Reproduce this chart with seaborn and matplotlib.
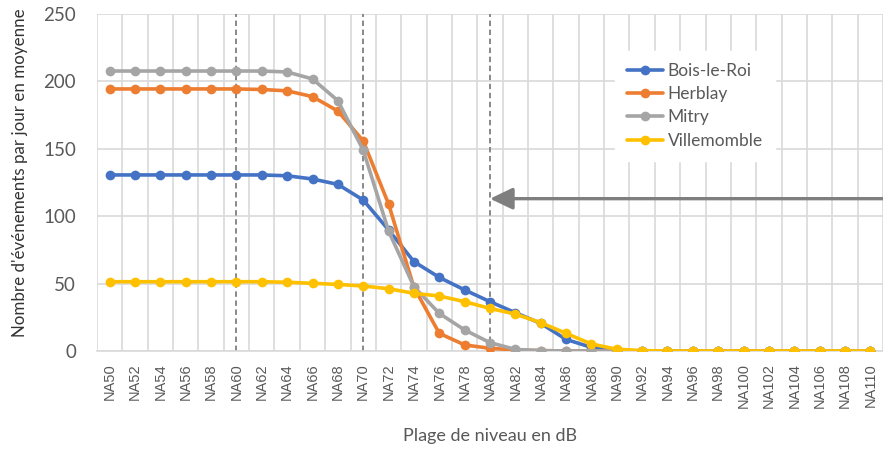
import matplotlib
matplotlib.use("Agg")
import matplotlib.pyplot as plt
import seaborn as sns
import pandas as pd
import numpy as np

# Level ranges (dB), NA50 .. NA110 in steps of 2
levels = [f"NA{v}" for v in range(50, 112, 2)]

bois_le_roi = [130.6, 130.6, 130.6, 130.6, 130.6, 130.6, 130.6, 130.0, 127.6, 123.6,
               112.0, 89.8, 66.3, 54.6, 45.3, 36.6, 28.4, 20.5, 8.6, 2.7,
               0.5, 0, 0, 0, 0, 0, 0, 0, 0, 0, 0]
herblay = [194.4, 194.4, 194.4, 194.4, 194.4, 194.4, 194.0, 193.0, 188.7, 178.0,
           155.8, 109.0, 47.2, 13.1, 4.5, 2.0, 0.8, 0.3, 0, 0,
           0, 0, 0, 0, 0, 0, 0, 0, 0, 0, 0]
mitry = [207.7, 207.7, 207.7, 207.7, 207.7, 207.7, 207.7, 207.0, 201.8, 185.7,
         149.0, 89.0, 47.7, 27.9, 15.6, 6.2, 1.2, 0.3, 0, 0,
         0, 0, 0, 0, 0, 0, 0, 0, 0, 0, 0]
villemomble = [51.4, 51.4, 51.4, 51.4, 51.4, 51.4, 51.4, 51.0, 50.2, 49.4,
               48.2, 46.2, 42.8, 40.8, 36.6, 31.6, 27.4, 21.0, 13.1, 5.2,
               1.3, 0.3, 0, 0, 0, 0, 0, 0, 0, 0, 0]

series_names = ["Bois-le-Roi", "Herblay", "Mitry", "Villemomble"]
series_values = [bois_le_roi, herblay, mitry, villemomble]
colors = ["#4472C4", "#ED7D31", "#A5A5A5", "#FFC000"]

marked_levels = ["NA60", "NA70", "NA80"]
arrow_level = "NA80"
arrow_value = 113

pos = np.arange(len(levels))
df = pd.concat(
    [pd.DataFrame({"pos": pos, "Plage": levels, "valeur": vals, "site": name})
     for name, vals in zip(series_names, series_values)],
    ignore_index=True,
)

sns.set_theme(style="white")
plt.rcParams["font.family"] = ["Lato", "DejaVu Sans"]

fig = plt.figure(figsize=(8.83, 4.5), dpi=100)
ax = fig.add_axes([97 / 883, 1 - 351 / 450, (883 - 97) / 883, (351 - 14) / 450])

grid_c = "#D9D9D9"
text_c = "#595959"

sns.lineplot(data=df, x="pos", y="valeur", hue="site", hue_order=series_names,
             palette=colors, marker="o", markersize=7, markeredgewidth=0,
             linewidth=2.6, ax=ax, zorder=3, sort=False)

ax.set_xlim(-0.5, len(levels) - 0.5)
ax.set_ylim(0, 250)
ax.set_yticks(range(0, 251, 50))
ax.set_xticks(pos)
ax.set_xticklabels(levels, rotation=90, fontsize=10.5, color=text_c,
                   family=["Liberation Sans", "DejaVu Sans"])
ax.set_xticks(np.arange(-0.5, len(levels), 1.0), minor=True)
ax.tick_params(axis="x", which="major", length=0, pad=9)
ax.tick_params(axis="x", which="minor", length=5, color=grid_c, width=1)
ax.tick_params(axis="y", length=0, labelsize=13.5, labelcolor=text_c, pad=15)

ax.grid(False)
ax.yaxis.grid(True, color=grid_c, linewidth=1.2, zorder=0)
ax.xaxis.grid(True, which="minor", color=grid_c, linewidth=1.2, zorder=0)
for s in ["top", "right", "left"]:
    ax.spines[s].set_visible(False)
ax.spines["bottom"].set_color(grid_c)
ax.spines["bottom"].set_linewidth(1.2)

for lv in marked_levels:
    ax.axvline(levels.index(lv), color="#7F7F7F", linestyle=(0, (3, 2)),
               linewidth=1.3, zorder=2)

ax.annotate("", xy=(levels.index(arrow_level), arrow_value),
            xytext=(len(levels) - 0.5, arrow_value),
            arrowprops=dict(arrowstyle="-|>,head_length=1.15,head_width=0.55",
                            color="#7F7F7F", lw=2.4, shrinkA=0, shrinkB=0),
            zorder=4, annotation_clip=False)

ax.set_xlabel("Plage de niveau en dB", fontsize=13, color=text_c, labelpad=14)
ax.set_ylabel("Nombre d'événements par jour en moyenne", fontsize=12.2,
              color="#333333")
ax.yaxis.set_label_coords(-0.088, 0.53)

leg = ax.legend(loc="upper left", bbox_to_anchor=(606 / 883, 1 - 42 / 450),
                bbox_transform=fig.transFigure, frameon=True, fontsize=12.5,
                handlelength=2.1, handletextpad=0.25, labelspacing=0.42,
                borderpad=0.7, fancybox=False, title=None)
leg.get_frame().set_facecolor("white")
leg.get_frame().set_edgecolor("white")
leg.get_frame().set_alpha(1)
leg.set_zorder(5)
for t in leg.get_texts():
    t.set_color(text_c)

fig.savefig("out.png", dpi=100)
